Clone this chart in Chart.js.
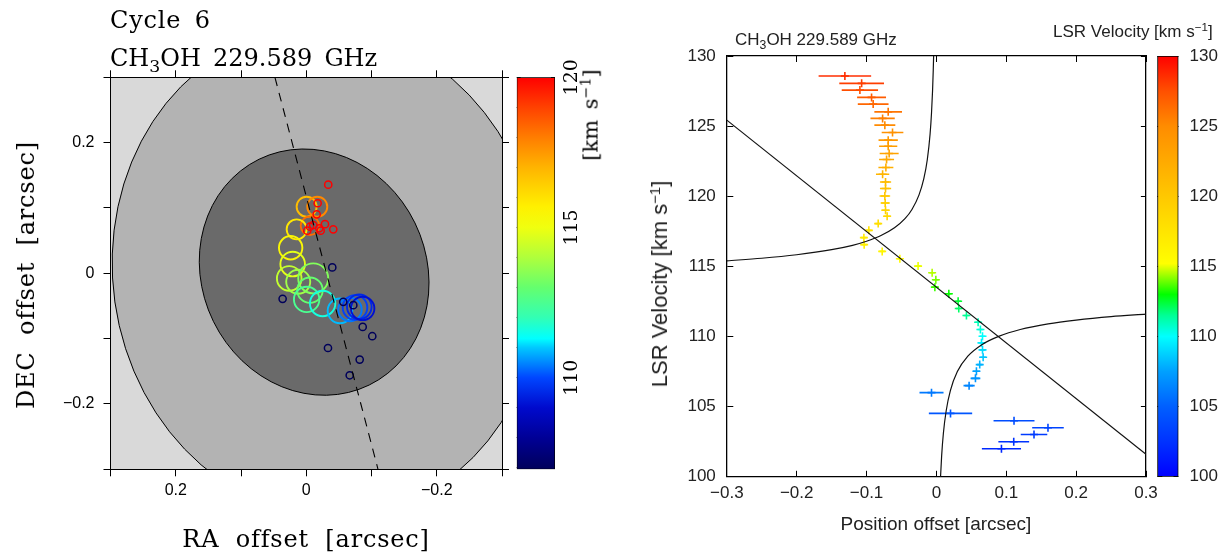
<!DOCTYPE html>
<html>
<head>
<meta charset="utf-8">
<script src="https://cdn.jsdelivr.net/npm/chart.js@4.4.1/dist/chart.umd.min.js"></script>
<style>
body { margin: 0; background: #fff; width: 1230px; height: 554px; position: relative; overflow: hidden; }
canvas { position: absolute; }
.t { position: absolute; white-space: nowrap; line-height: 1; color: #000; }
.serif { font-family: "DejaVu Serif"; font-size: 24px; word-spacing: 8px; letter-spacing: 0.8px; }
.sans { font-family: "Liberation Sans"; color: #222; }
.rot { transform: translate(-50%, -50%) rotate(-90deg); }
.ctr { transform: translate(-50%, -50%); }
.sub { font-size: 0.72em; position: relative; top: 0.32em; }
.sup { font-size: 0.68em; position: relative; top: -0.5em; }
</style>
</head>
<body>
<canvas id="map" width="522" height="554" style="left:0;top:0"></canvas>
<canvas id="mapbar" width="120" height="554" style="left:500px;top:0"></canvas>
<canvas id="pv" width="566" height="554" style="left:600px;top:0"></canvas>
<canvas id="pvbar" width="90" height="554" style="left:1140px;top:0"></canvas>

<div class="t serif" style="left:110px;top:8px;word-spacing:5px">Cycle 6</div>
<div class="t serif" style="left:110px;top:46px;word-spacing:4.5px;letter-spacing:0">CH<span class="sub">3</span>OH 229.589 GHz</div>
<div class="t serif rot" style="left:26px;top:275px">DEC offset [arcsec]</div>
<div class="t serif ctr" style="left:306px;top:539px">RA offset [arcsec]</div>
<div class="t serif rot" style="left:591px;top:115px;font-size:21px;word-spacing:4px;letter-spacing:0">[km s<span class="sup">&minus;1</span>]</div>

<div class="t sans" style="left:735px;top:31px;font-size:17px">CH<span class="sub">3</span>OH 229.589 GHz</div>
<div class="t sans" style="left:1053px;top:23px;font-size:17px">LSR Velocity [km s<span class="sup">&minus;1</span>]</div>
<div class="t sans rot" style="left:660px;top:284px;font-size:22px">LSR Velocity [km s<span class="sup">&minus;1</span>]</div>
<div class="t sans ctr" style="left:936px;top:523px;font-size:19px">Position offset [arcsec]</div>

<script>
Chart.defaults.font.family = 'Liberation Sans';
Chart.defaults.color = '#222';
Chart.defaults.animation = false;

// ---------- left panel: spot positions on the sky ----------
// large spots (RA offset, DEC offset in arcsec, radius in px, velocity km/s)
var raBig  = [-0.0006, -0.0169, -0.0057, 0.0147, 0.0239, 0.0208, 0.0261, 0.0123, -0.0107, -0.0057, -0.0006, -0.0251, -0.0517, -0.0670, -0.0747, -0.0813, -0.0865];
var decBig = [0.1019, 0.1019, 0.0728, 0.0673, 0.0391, 0.0141, -0.0078, -0.0130, -0.0078, -0.0258, -0.0400, -0.0462, -0.0575, -0.0554, -0.0523, -0.0513, -0.0538];
var sizeBig = [10, 10, 9.3, 10, 11.7, 12.3, 12.3, 12, 15, 12.7, 12.7, 12.7, 12.3, 11.7, 12.3, 12.3, 11.7];
var velBig = [116.8, 117.8, 118.3, 115.9, 115.4, 114.8, 114.3, 113.8, 113.4, 113.0, 112.5, 111.6, 110.9, 110.4, 109.9, 109.5, 109.1];

// small red spots (above the colour range)
var raRed  = [-0.0337, -0.0175, -0.0160, -0.0414, -0.0057, -0.0015, -0.0107, -0.0199, -0.0287, -0.0221];
var decRed = [0.1357, 0.1072, 0.0903, 0.0673, 0.0713, 0.0652, 0.0739, 0.0689, 0.0752, 0.0652];
var sizeRed = [3.6, 3.6, 3.6, 3.6, 3.6, 3.6, 3.6, 3.6, 3.6, 3.6];
var velRed = [121, 121, 121, 121, 121, 121, 121, 121, 121, 121];

// small dark spots (below the colour range)
var raNavy  = [-0.0399, 0.0362, -0.0865, -0.1012, -0.0333, -0.0819, -0.0666, -0.0567, -0.0721];
var decNavy = [0.0090, -0.0391, -0.0821, -0.0963, -0.1143, -0.1321, -0.1561, -0.0437, -0.0488];
var sizeNavy = [3.6, 3.6, 3.6, 3.6, 3.6, 3.6, 3.6, 3.6, 3.6];
var velNavy = [106, 106, 106, 106, 106, 106, 106, 106, 106];

// beam / continuum ellipses: centre, semi axes (arcsec), position angle (deg E of N)
var beamRa = [-0.0317, -0.0121];
var beamDec = [0.0018, 0.0018];
var beamMajor = [0.3757, 0.1925];
var beamMinor = [0.3282, 0.1719];
var beamPa = [8, 26];
var beamFill = ['#b3b3b3', '#6a6a6a'];

// dashed axis line end points
var axisRa = [0.048, -0.110];
var axisDec = [0.3, -0.3];

var mapBarMin = 106.95, mapBarMax = 120;
var mapBarLabels = [110, 115, 120];

// ---------- right panel: position-velocity ----------
var lsrVel = [128.57, 128.05, 127.57, 127.05, 126.57, 126.02, 125.55, 125.07, 124.55, 124.0, 123.57, 123.05, 122.62,
  122.05, 121.57, 121.02, 120.55, 120.02, 119.52, 119.0, 118.57, 118.05, 117.57, 117.05, 116.55, 116.07, 115.55,
  115.02, 114.55, 114.05, 113.52, 113.05, 112.52, 112.0, 111.5, 111.02, 110.5, 110.02, 109.55, 109.05, 108.52,
  108.0, 107.52, 107.02, 106.5, 106.0, 104.52, 104.0, 103.5, 103.02, 102.5, 102.0];
var posOffset = [-0.131, -0.107, -0.1095, -0.0928, -0.0905, -0.069, -0.077, -0.0738, -0.0628, -0.069, -0.069, -0.0676, -0.0713,
  -0.0723, -0.077, -0.0728, -0.0728, -0.0738, -0.0733, -0.0728, -0.0705, -0.0833, -0.0967, -0.1038, -0.1034, -0.0776, -0.0523,
  -0.0262, -0.0061, -0.0008, -0.0022, 0.0178, 0.0311, 0.032, 0.043, 0.0597, 0.063, 0.066, 0.0645, 0.066, 0.0669,
  0.062, 0.0573, 0.0559, 0.0468, -0.007, 0.0202, 0.1111, 0.1597, 0.1397, 0.1107, 0.0931];
var posErr = [0.0376, 0.032, 0.026, 0.0207, 0.022, 0.0198, 0.0174, 0.015, 0.0155, 0.0138, 0.013, 0.0136, 0.0107,
  0.0107, 0.0095, 0.008, 0.008, 0.0076, 0.0065, 0.0057, 0.005, 0.004, 0.004, 0.004, 0.004, 0.004, 0.004,
  0.004, 0.004, 0.004, 0.004, 0.004, 0.004, 0.004, 0.004, 0.004, 0.004, 0.004, 0.004, 0.004, 0.004,
  0.004, 0.005, 0.007, 0.008, 0.0172, 0.031, 0.0293, 0.0226, 0.019, 0.022, 0.028];

// straight fit line and Keplerian curves
var fitX = [-0.3, 0.3];
var fitV = [125.43, 101.6];
var kepUpX = [-0.3, -0.25, -0.2, -0.15, -0.12, -0.1, -0.08, -0.06, -0.045, -0.035, -0.025, -0.018, -0.013, -0.009, -0.007, -0.0055, -0.0045, -0.004, -0.0037];
var kepUpV = [115.40, 115.58, 115.83, 116.19, 116.50, 116.79, 117.18, 117.75, 118.40, 119.06, 120.08, 121.25, 122.62, 124.46, 125.93, 127.52, 129.0, 129.94, 130.6];
var kepLoX = [0.0055, 0.0059, 0.0075, 0.01, 0.014, 0.02, 0.03, 0.045, 0.065, 0.09, 0.12, 0.16, 0.2, 0.25, 0.3];
var kepLoV = [99.5, 99.96, 101.49, 103.1, 104.71, 106.15, 107.5, 108.6, 109.42, 110.03, 110.5, 110.9, 111.17, 111.42, 111.6];

var pvBarMin = 100, pvBarMax = 130;

// colour ramps: [value, r, g, b]
var mapStops = [[106.95, 0, 0, 90], [108, 0, 0, 150], [109, 0, 10, 205], [110, 0, 70, 255], [111, 0, 200, 255],
  [111.3, 0, 255, 255], [112, 50, 255, 180], [113, 100, 255, 110], [114, 175, 255, 60], [115, 240, 255, 15],
  [115.7, 255, 240, 0], [117, 255, 180, 0], [118, 255, 125, 0], [119, 255, 65, 0], [120, 255, 0, 0]];
var pvStops = [[100, 0, 0, 255], [102.5, 0, 50, 255], [105, 0, 95, 255], [107.5, 0, 160, 255], [110, 0, 255, 255],
  [111.5, 0, 255, 150], [113, 0, 255, 0], [114.3, 150, 255, 0], [115.2, 255, 255, 0], [120, 255, 200, 0],
  [125, 255, 140, 0], [127.5, 255, 80, 0], [130, 255, 0, 0]];

function rampColor(stops, v) {
  if (v <= stops[0][0]) return 'rgb(' + stops[0].slice(1).join(',') + ')';
  var last = stops[stops.length - 1];
  if (v >= last[0]) return 'rgb(' + last.slice(1).join(',') + ')';
  for (var i = 1; i < stops.length; i++) {
    if (v <= stops[i][0]) {
      var a = stops[i - 1], b = stops[i], f = (v - a[0]) / (b[0] - a[0]);
      return 'rgb(' + [1, 2, 3].map(function (k) { return Math.round(a[k] + f * (b[k] - a[k])); }).join(',') + ')';
    }
  }
}

function toPoints(xs, ys, rs) {
  return xs.map(function (x, i) { var p = { x: x, y: ys[i] }; if (rs) p.r = rs[i]; return p; });
}

function gradientFill(stops, min, max) {
  return function (c) {
    var chart = c.chart;
    if (!chart.chartArea) return null;
    var s = chart.scales.y;
    var g = chart.ctx.createLinearGradient(0, s.getPixelForValue(min), 0, s.getPixelForValue(max));
    stops.forEach(function (st) {
      g.addColorStop(Math.min(1, Math.max(0, (st[0] - min) / (max - min))), 'rgb(' + st.slice(1).join(',') + ')');
    });
    return g;
  };
}

// ---------- left map ----------
var beamPlugin = {
  id: 'beams',
  beforeDraw: function (chart) {
    var ctx = chart.ctx, a = chart.chartArea, x = chart.scales.x, y = chart.scales.y;
    var k = Math.abs(x.getPixelForValue(1) - x.getPixelForValue(0));
    ctx.save();
    ctx.beginPath(); ctx.rect(a.left, a.top, a.right - a.left, a.bottom - a.top); ctx.clip();
    ctx.fillStyle = '#d9d9d9';
    ctx.fillRect(a.left, a.top, a.right - a.left, a.bottom - a.top);
    for (var i = 0; i < beamRa.length; i++) {
      ctx.beginPath();
      ctx.ellipse(x.getPixelForValue(beamRa[i]), y.getPixelForValue(beamDec[i]),
        beamMinor[i] * k, beamMajor[i] * k, -beamPa[i] * Math.PI / 180, 0, 2 * Math.PI);
      ctx.fillStyle = beamFill[i];
      ctx.fill();
      ctx.lineWidth = 1;
      ctx.strokeStyle = '#000';
      ctx.stroke();
    }
    ctx.restore();
  }
};

var mapTickText = { '2': '0.2', '0': '0', '-2': '\u22120.2' };
function mapTick(v) { var t = mapTickText[Math.round(v * 10)]; return t === undefined ? '' : t; }
function blankTick() { return ''; }

function mapAxis(pos, isX, labelled, size) {
  return {
    type: 'linear', position: pos, min: -0.3, max: 0.3, reverse: isX,
    afterFit: function (s) { if (isX) s.height = size; else s.width = size; },
    ticks: { stepSize: 0.1, callback: labelled ? mapTick : blankTick, autoSkip: false, maxRotation: 0,
      font: { size: 16 }, color: '#000', padding: isX ? 5 : 9, includeBounds: true },
    grid: { drawOnChartArea: false, drawTicks: true, tickLength: 7, color: '#000', lineWidth: 1 },
    border: { display: true, color: '#000', width: 1 }
  };
}

new Chart(document.getElementById('map'), {
  type: 'bubble',
  data: {
    datasets: [
      { type: 'line', data: toPoints(axisRa, axisDec), borderColor: '#000', borderWidth: 1.1,
        borderDash: [9, 7], pointRadius: 0, fill: false },
      { data: toPoints(raRed, decRed, sizeRed), borderColor: velRed.map(function (v) { return rampColor(mapStops, v); }),
        backgroundColor: 'rgba(0,0,0,0)', borderWidth: 1.5 },
      { data: toPoints(raNavy, decNavy, sizeNavy), borderColor: velNavy.map(function (v) { return rampColor(mapStops, v); }),
        backgroundColor: 'rgba(0,0,0,0)', borderWidth: 1.5 },
      { data: toPoints(raBig, decBig, sizeBig), borderColor: velBig.map(function (v) { return rampColor(mapStops, v); }),
        backgroundColor: 'rgba(0,0,0,0)', borderWidth: 1.9 }
    ]
  },
  options: {
    responsive: false, events: [],
    layout: { padding: { left: 0, right: 0, top: 57.3, bottom: 0 } },
    plugins: { legend: { display: false }, tooltip: { enabled: false } },
    scales: {
      x: mapAxis('bottom', true, true, 84.7),
      x2: mapAxis('top', true, false, 20),
      y: mapAxis('left', false, true, 110.5),
      y2: mapAxis('right', false, false, 20)
    }
  },
  plugins: [beamPlugin]
});

// ---------- left colour bar ----------
var mapBarLabelPlugin = {
  id: 'mapBarLabels',
  afterDraw: function (chart) {
    var ctx = chart.ctx, s = chart.scales.y, a = chart.chartArea;
    ctx.save();
    ctx.fillStyle = '#000';
    ctx.font = '19px "DejaVu Serif"';
    ctx.textAlign = 'center';
    ctx.textBaseline = 'middle';
    mapBarLabels.forEach(function (v) {
      ctx.save();
      ctx.translate(a.right + 17, s.getPixelForValue(v));
      ctx.rotate(-Math.PI / 2);
      ctx.fillText(String(v), 0, 0);
      ctx.restore();
    });
    ctx.restore();
  }
};

new Chart(document.getElementById('mapbar'), {
  type: 'bar',
  data: { labels: [''], datasets: [{ data: [[mapBarMin, mapBarMax]], backgroundColor: gradientFill(mapStops, mapBarMin, mapBarMax),
    borderColor: '#000', borderWidth: 1, borderSkipped: false, barPercentage: 1, categoryPercentage: 1 }] },
  options: {
    responsive: false, events: [],
    layout: { padding: { left: 16.7, right: 0, top: 77.3, bottom: 84.7 } },
    plugins: { legend: { display: false }, tooltip: { enabled: false } },
    scales: {
      x: { display: false },
      y: { position: 'right', min: mapBarMin, max: mapBarMax, z: 1,
        afterFit: function (s) { s.width = 65; },
        ticks: { display: false, stepSize: 1, includeBounds: false },
        grid: { drawTicks: false, color: '#222', lineWidth: 1 },
        border: { display: false, dash: [4, 30.3] } }
    }
  },
  plugins: [mapBarLabelPlugin]
});

// ---------- right position-velocity diagram ----------
var pointColors = lsrVel.map(function (v) { return rampColor(pvStops, v); });

var errorBarPlugin = {
  id: 'errorBars',
  beforeDatasetsDraw: function (chart) {
    var ctx = chart.ctx, a = chart.chartArea, x = chart.scales.x, y = chart.scales.y;
    ctx.save();
    ctx.beginPath(); ctx.rect(a.left, a.top, a.right - a.left, a.bottom - a.top); ctx.clip();
    ctx.lineWidth = 1.6;
    for (var i = 0; i < lsrVel.length; i++) {
      var py = y.getPixelForValue(lsrVel[i]);
      ctx.strokeStyle = pointColors[i];
      ctx.beginPath();
      ctx.moveTo(x.getPixelForValue(posOffset[i] - posErr[i]), py);
      ctx.lineTo(x.getPixelForValue(posOffset[i] + posErr[i]), py);
      ctx.stroke();
    }
    ctx.restore();
  }
};

function pvXTick(v) {
  var r = Math.round(v * 10);
  if (r === 0) return '0';
  return (r < 0 ? '\u2212' : '') + (Math.abs(r) / 10).toFixed(1);
}

new Chart(document.getElementById('pv'), {
  type: 'scatter',
  data: {
    datasets: [
      { type: 'line', data: toPoints(fitX, fitV), borderColor: '#111', borderWidth: 1.2, pointRadius: 0, fill: false },
      { type: 'line', data: toPoints(kepUpX, kepUpV), borderColor: '#111', borderWidth: 1.2, pointRadius: 0, fill: false,
        cubicInterpolationMode: 'monotone' },
      { type: 'line', data: toPoints(kepLoX, kepLoV), borderColor: '#111', borderWidth: 1.2, pointRadius: 0, fill: false,
        cubicInterpolationMode: 'monotone' },
      { data: toPoints(posOffset, lsrVel), pointStyle: 'cross', pointRadius: 4, pointBorderWidth: 1.6,
        pointBorderColor: pointColors, borderColor: pointColors, backgroundColor: pointColors }
    ]
  },
  options: {
    responsive: false, events: [],
    layout: { padding: { left: 0, right: 0, top: 56, bottom: 0 } },
    plugins: { legend: { display: false }, tooltip: { enabled: false } },
    scales: {
      x: { type: 'linear', position: 'bottom', min: -0.3, max: 0.3,
        afterFit: function (s) { s.height = 77.2; },
        ticks: { stepSize: 0.1, callback: pvXTick, autoSkip: false, maxRotation: 0, font: { size: 17 }, padding: 6 },
        grid: { drawTicks: false, color: '#000', lineWidth: 1 },
        border: { display: true, color: '#000', width: 1.3, dash: [6, 408.8] } },
      x2: { type: 'linear', position: 'top', min: -0.3, max: 0.3,
        afterFit: function (s) { s.height = 0; },
        ticks: { display: false }, grid: { display: false },
        border: { display: true, color: '#000', width: 1.3 } },
      y: { type: 'linear', position: 'left', min: 100, max: 130,
        afterFit: function (s) { s.width = 126.8; },
        ticks: { stepSize: 5, font: { size: 17 }, padding: 11 },
        grid: { drawTicks: false, color: '#000', lineWidth: 1 },
        border: { display: true, color: '#000', width: 1.3, dash: [6, 407.6] } },
      y2: { type: 'linear', position: 'right', min: 100, max: 130,
        afterFit: function (s) { s.width = 20; },
        ticks: { display: false }, grid: { display: false },
        border: { display: true, color: '#000', width: 1.3 } }
    }
  },
  plugins: [errorBarPlugin]
});

// ---------- right colour bar ----------
new Chart(document.getElementById('pvbar'), {
  type: 'bar',
  data: { labels: [''], datasets: [{ data: [[pvBarMin, pvBarMax]], backgroundColor: gradientFill(pvStops, pvBarMin, pvBarMax),
    borderColor: '#000', borderWidth: 1.2, borderSkipped: false, barPercentage: 1, categoryPercentage: 1 }] },
  options: {
    responsive: false, events: [],
    layout: { padding: { left: 17.3, right: 0, top: 56, bottom: 77.2 } },
    plugins: { legend: { display: false }, tooltip: { enabled: false } },
    scales: {
      x: { display: false },
      y: { position: 'right', min: pvBarMin, max: pvBarMax, z: 1,
        afterFit: function (s) { s.width = 51.5; },
        ticks: { stepSize: 5, font: { size: 17 }, padding: 11 },
        grid: { drawTicks: false, color: '#222', lineWidth: 1 },
        border: { display: false, dash: [5, 11.2] } }
    }
  }
});
</script>
</body>
</html>
